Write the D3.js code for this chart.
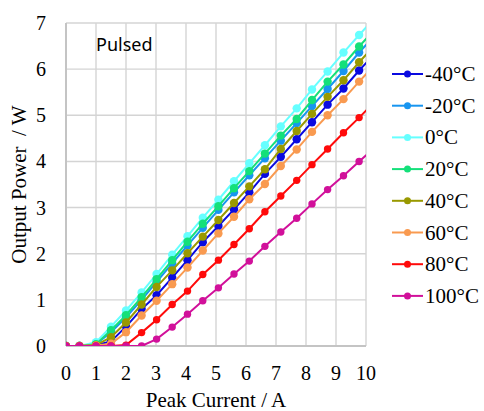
<!DOCTYPE html>
<meta charset="utf-8">
<script src="https://d3js.org/d3.v7.min.js"></script>
<body style="margin:0;background:#fff">
<div id="chart"></div>
<script>

// peak current (A) for each measurement point
var current = [0, 0.45, 1.0, 1.5, 2.0, 2.52, 3.02, 3.54, 4.05, 4.56, 5.08, 5.6, 6.11, 6.63, 7.16, 7.69, 8.2, 8.72, 9.25, 9.77, 10.3];

// output power (W) per temperature
var pM40 = [0, 0, 0.02, 0.1, 0.42, 0.8, 1.1, 1.48, 1.86, 2.25, 2.6, 2.96, 3.33, 3.73, 4.1, 4.48, 4.85, 5.23, 5.58, 5.97, 6.34];
var pM20 = [0, 0, 0.04, 0.3, 0.62, 1.0, 1.39, 1.79, 2.18, 2.56, 2.95, 3.33, 3.7, 4.07, 4.45, 4.83, 5.2, 5.57, 5.96, 6.36, 6.74];
var p0   = [0, 0, 0.08, 0.42, 0.77, 1.16, 1.56, 1.98, 2.38, 2.78, 3.17, 3.57, 3.96, 4.35, 4.76, 5.15, 5.56, 5.95, 6.36, 6.74, 7.12];
var p20  = [0, 0, 0.04, 0.34, 0.67, 1.06, 1.45, 1.86, 2.26, 2.65, 3.03, 3.42, 3.79, 4.17, 4.56, 4.92, 5.33, 5.73, 6.1, 6.49, 6.87];
var p40  = [0, 0, 0.02, 0.19, 0.51, 0.9, 1.28, 1.64, 2.01, 2.37, 2.73, 3.1, 3.46, 3.83, 4.27, 4.66, 5.03, 5.4, 5.76, 6.15, 6.52];
var p60  = [0, 0, 0.01, 0.05, 0.3, 0.66, 0.98, 1.34, 1.7, 2.07, 2.44, 2.8, 3.18, 3.51, 3.9, 4.26, 4.64, 5.0, 5.35, 5.73, 6.1];
var p80  = [0, 0, 0, 0, 0.02, 0.29, 0.57, 0.9, 1.19, 1.55, 1.86, 2.2, 2.54, 2.91, 3.25, 3.59, 3.93, 4.27, 4.62, 4.95, 5.3];
var p100 = [0, 0, 0, 0, 0, 0, 0.15, 0.41, 0.69, 0.98, 1.26, 1.56, 1.84, 2.16, 2.47, 2.77, 3.08, 3.39, 3.69, 4.0, 4.3];

var labels = ["-40\u00b0C", "-20\u00b0C", "0\u00b0C", "20\u00b0C", "40\u00b0C", "60\u00b0C", "80\u00b0C", "100\u00b0C"];
var values = [pM40, pM20, p0, p20, p40, p60, p80, p100];
var colors = ["#0a0ae0", "#1795f0", "#66ffff", "#14e07a", "#999900", "#f99a50", "#ff0a0a", "#d1109a"];
var radius = [4.2, 4.2, 4.2, 4.2, 4.2, 4.2, 3.7, 3.7];

var xTicks = [0, 1, 2, 3, 4, 5, 6, 7, 8, 9, 10];
var yTicks = [0, 1, 2, 3, 4, 5, 6, 7];

var serif = "'Liberation Serif', 'Times New Roman', 'DejaVu Serif', serif";

var W = 484, H = 411;
var margin = {top: 23, right: 118, bottom: 65, left: 66},
    width = W - margin.left - margin.right,
    height = H - margin.top - margin.bottom;

var svg = d3.select("#chart").append("svg")
    .attr("width", W)
    .attr("height", H);

var g = svg.append("g")
    .attr("transform", "translate(" + margin.left + "," + margin.top + ")");

var x = d3.scaleLinear().domain([0, 10]).range([0, width]);
var y = d3.scaleLinear().domain([0, 7]).range([height, 0]);

// grid
g.append("g").selectAll("line")
  .data(xTicks).enter().append("line")
    .attr("x1", d => x(d)).attr("x2", d => x(d))
    .attr("y1", 0).attr("y2", height)
    .style("stroke", "#d4d4d4").style("stroke-width", 1.4);

g.append("g").selectAll("line")
  .data(yTicks).enter().append("line")
    .attr("x1", 0).attr("x2", width)
    .attr("y1", d => y(d)).attr("y2", d => y(d))
    .style("stroke", "#d4d4d4").style("stroke-width", 1.4);

// axis lines
g.append("line").attr("x1", 0).attr("x2", 0).attr("y1", 0).attr("y2", height)
  .style("stroke", "#c4c4c4").style("stroke-width", 2);
g.append("line").attr("x1", 0).attr("x2", width).attr("y1", height).attr("y2", height)
  .style("stroke", "#c4c4c4").style("stroke-width", 2);

// tick labels
g.append("g").selectAll("text")
  .data(xTicks).enter().append("text")
    .attr("x", d => x(d))
    .attr("y", height + 34)
    .attr("text-anchor", "middle")
    .attr("font-family", serif)
    .attr("font-size", 20)
    .text(d => d);

g.append("g").selectAll("text")
  .data(yTicks).enter().append("text")
    .attr("x", -20)
    .attr("y", d => y(d) + 7)
    .attr("text-anchor", "end")
    .attr("font-family", serif)
    .attr("font-size", 20)
    .text(d => d);

// axis titles
g.append("text")
  .attr("x", width / 2)
  .attr("y", height + 61)
  .attr("text-anchor", "middle")
  .attr("font-family", serif)
  .attr("font-size", 21)
  .text("Peak Current / A");

svg.append("text")
  .attr("transform", "translate(26," + (margin.top + height / 2) + ")rotate(-90)")
  .attr("text-anchor", "middle")
  .attr("font-family", serif)
  .attr("font-size", 21)
  .style("white-space", "pre")
  .text("Output Power  / W");

g.append("text")
  .attr("x", x(1))
  .attr("y", y(6.4))
  .attr("font-family", "'Noto Sans', 'DejaVu Sans', sans-serif")
  .attr("font-size", 18)
  .text("Pulsed");

// clip
svg.append("clipPath").attr("id", "plot-clip")
  .append("rect").attr("x", 0).attr("y", -6).attr("width", width).attr("height", height + 6);

var plot = g.append("g").attr("clip-path", "url(#plot-clip)");

var line = d3.line()
  .x(d => x(d[0]))
  .y(d => y(d[1]));

values.forEach(function (vals, i) {
  var pts = current.map((c, j) => [c, vals[j]]);
  plot.append("path")
    .datum(pts)
    .attr("d", line)
    .style("fill", "none")
    .style("stroke", colors[i])
    .style("stroke-width", 2);
  plot.append("g").selectAll("circle")
    .data(pts).enter().append("circle")
      .attr("cx", d => x(d[0]))
      .attr("cy", d => y(d[1]))
      .attr("r", radius[i])
      .style("fill", colors[i]);
});

// legend
var legend = svg.append("g").attr("transform", "translate(392,74)");
labels.forEach(function (lab, i) {
  var row = legend.append("g").attr("transform", "translate(0," + (i * 31.7) + ")");
  row.append("line").attr("x1", 0).attr("x2", 31).attr("y1", 0).attr("y2", 0)
    .style("stroke", colors[i]).style("stroke-width", 2);
  row.append("circle").attr("cx", 15.5).attr("cy", 0).attr("r", 3.5).style("fill", colors[i]);
  row.append("text")
    .attr("x", 33).attr("y", 7)
    .attr("font-family", serif)
    .attr("font-size", 21)
    .text(lab);
});

</script>
</body>
